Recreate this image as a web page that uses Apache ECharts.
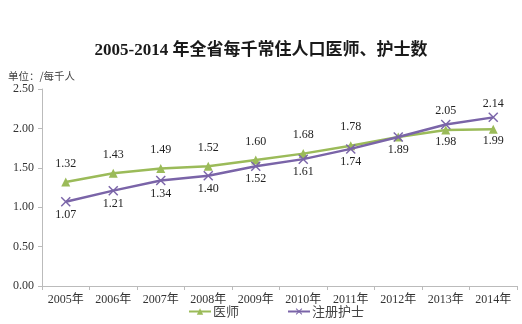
<!DOCTYPE html>
<html>
<head>
<meta charset="utf-8">
<script src="https://cdn.jsdelivr.net/npm/echarts@6/dist/echarts.min.js"></script>
<style>
html,body{margin:0;padding:0;background:#fff;}
#chart{width:522px;height:324px;}
</style>
</head>
<body>
<div id="chart"></div>
<script>
// Per-thousand residents, 2005-2014
const years = ['2005年','2006年','2007年','2008年','2009年','2010年','2011年','2012年','2013年','2014年'];
const doctors = [1.32, 1.43, 1.49, 1.52, 1.60, 1.68, 1.78, 1.89, 1.98, 1.99];
const nurses  = [1.07, 1.21, 1.34, 1.40, 1.52, 1.61, 1.74, 1.89, 2.05, 2.14];
// label side per point: doctors above until they fall below the nurses
const doctorLabelPos = ['top','top','top','top','top','top','top','none','bottom','bottom'];
const nurseLabelPos  = ['bottom','bottom','bottom','bottom','bottom','bottom','bottom','bottom','top','top'];

const serif = '"Liberation Serif","Times New Roman","Noto Sans CJK SC",serif';
const cjk = '"Noto Sans CJK SC","Liberation Serif",sans-serif';
const crossPath = 'path://M0,1L1,0L5,4L9,0L10,1L6,5L10,9L9,10L5,6L1,10L0,9L4,5Z';

function pointData(values, positions, topGap, bottomGap) {
  return values.map((v, i) => ({
    value: v,
    label: positions[i] === 'none' ? {show: false} : {
      show: true,
      position: positions[i],
      distance: positions[i] === 'top' ? topGap : bottomGap
    }
  }));
}

const chart = echarts.init(document.getElementById('chart'));
chart.setOption({
  backgroundColor: '#fff',
  animation: false,
  title: {
    text: '2005-2014 年全省每千常住人口医师、护士数',
    left: 'center',
    top: 37,
    textStyle: {fontFamily: serif, fontSize: 17, fontWeight: 'bold', color: '#1a1a1a'}
  },
  graphic: [{
    type: 'text', left: 8, top: 71,
    style: {text: '单位：/每千人', font: '10.5px ' + cjk, fill: '#444'}
  }],
  legend: {
    bottom: 1,
    left: 183,
    itemWidth: 22,
    itemHeight: 8,
    itemGap: 48,
    textStyle: {fontFamily: cjk, fontSize: 13, color: '#444', padding: [0, 0, 0, -3]},
    data: ['医师', '注册护士']
  },
  grid: {left: 42, right: 5, top: 89, bottom: 38},
  xAxis: {
    type: 'category',
    data: years,
    boundaryGap: true,
    axisLine: {lineStyle: {color: '#bbb', width: 1}},
    axisTick: {show: true, alignWithLabel: false, lineStyle: {color: '#bbb'}, length: 4},
    axisLabel: {fontFamily: serif, fontSize: 12, color: '#333', margin: 8}
  },
  yAxis: {
    type: 'value',
    min: 0, max: 2.5, interval: 0.5,
    axisLine: {show: true, lineStyle: {color: '#bbb', width: 1}},
    axisTick: {show: true, lineStyle: {color: '#bbb'}, length: 4},
    splitLine: {show: false},
    axisLabel: {fontFamily: serif, fontSize: 12, color: '#333', margin: 8,
      formatter: v => v.toFixed(2)}
  },
  series: [
    {
      name: '医师',
      type: 'line',
      data: pointData(doctors, doctorLabelPos, 8, 1),
      symbol: 'triangle',
      symbolSize: 9,
      lineStyle: {color: '#9bbb59', width: 2.5},
      itemStyle: {color: '#9bbb59'},
      label: {fontFamily: serif, fontSize: 12, color: '#222',
        formatter: p => p.value.toFixed(2)},
      z: 2
    },
    {
      name: '注册护士',
      type: 'line',
      data: pointData(nurses, nurseLabelPos, 3, 2),
      symbol: crossPath,
      symbolSize: 10,
      lineStyle: {color: '#7a64a8', width: 2.5},
      itemStyle: {color: '#7a64a8'},
      label: {fontFamily: serif, fontSize: 12, color: '#222',
        formatter: p => p.value.toFixed(2)},
      z: 3
    }
  ]
});
</script>
</body>
</html>
